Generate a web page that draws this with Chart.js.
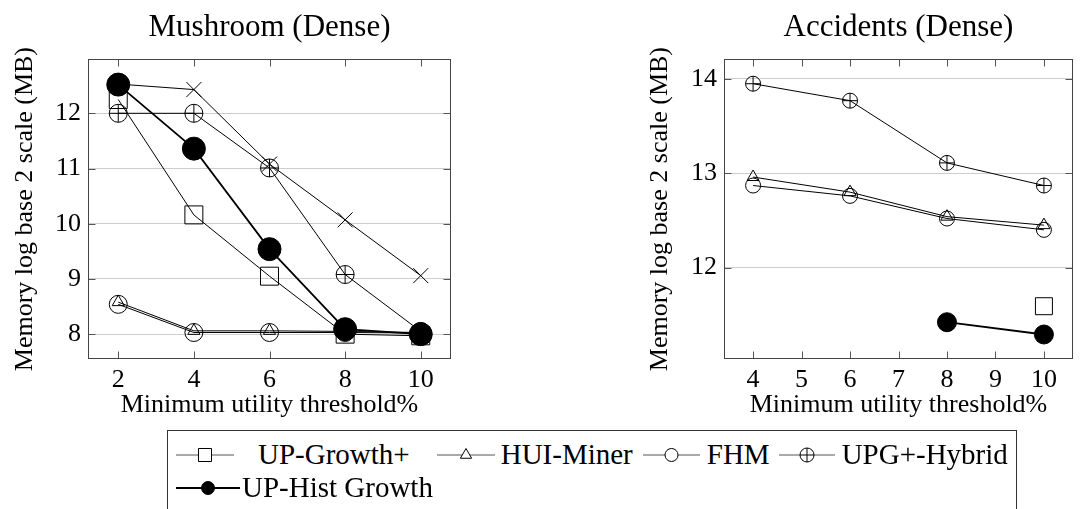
<!DOCTYPE html>
<html>
<head>
<meta charset="utf-8">
<title>Memory usage</title>
<script src="https://cdn.jsdelivr.net/npm/chart.js@4.4.1/dist/chart.umd.min.js"></script>
<style>
  body { margin: 0; width: 1086px; height: 509px; background: #fff; position: relative; overflow: hidden;
         font-family: "Liberation Serif", "Times New Roman", serif; }
  canvas.plot { position: absolute; top: 0; }
  #mushroom { left: 0; }
  #accidents { left: 630px; }
  #legend { position: absolute; left: 167px; top: 430px; border: 1.5px solid #333; border-bottom: none;
            padding: 7px 8px 30px 8px; background: #fff; }
  .row { display: flex; align-items: center; height: 33px; }
  .item { display: flex; align-items: center; }
  .item span { font-size: 29px; line-height: 33px; color: #000; white-space: nowrap; }
</style>
</head>
<body>
<canvas id="mushroom" class="plot" width="470" height="420"></canvas>
<canvas id="accidents" class="plot" width="456" height="420"></canvas>
<div id="legend"></div>
<script>
// series names
const seriesNames = ['UP-Growth+', 'HUI-Miner', 'FHM', 'UPG+-Hybrid', 'UP-Hist Growth'];

// Mushroom (Dense)
const mushThresholds = [2, 4, 6, 8, 10];
const mushUpGrowthPlus = [12.25, 10.16, 9.05, 8.0, 7.97];
const mushHuiMiner = [8.58, 8.06, 8.06, 8.05, 8.03];
const mushFhm = [8.54, 8.03, 8.03, 8.03, 8.02];
const mushUpgHybrid = [12.0, 12.0, 11.01, 9.08, 8.05];
const mushUpHist = [12.52, 11.36, 9.54, 8.09, 8.0];
const mushUnlabeled = [12.53, 12.43, 11.08, 10.07, 9.06];
const mushXTicks = [2, 4, 6, 8, 10];
const mushYTicks = [8, 9, 10, 11, 12];

// Accidents (Dense)
const accThresholds = [4, 6, 8, 10];
const accUpGrowthPlus = [null, null, null, 11.59];
const accHuiMiner = [12.96, 12.8, 12.54, 12.45];
const accFhm = [12.87, 12.76, 12.52, 12.4];
const accUpgHybrid = [13.95, 13.77, 13.11, 12.87];
const accUpHist = [null, null, 11.42, 11.29];
const accXTicks = [4, 5, 6, 7, 8, 9, 10];
const accYTicks = [12, 13, 14];

const FONT = '"Liberation Serif", "Times New Roman", serif';

function series(label, xs, ys, style, radius, extra) {
  return Object.assign({
    label: label,
    data: xs.map((x, i) => ({ x: x, y: ys[i] })),
    borderColor: '#000',
    borderWidth: 1,
    pointStyle: style,
    pointRadius: radius,
    pointHoverRadius: radius,
    pointBorderColor: '#000',
    pointBorderWidth: 1,
    pointBackgroundColor: 'rgba(0,0,0,0)',
    tension: 0,
    fill: false,
    spanGaps: false
  }, extra || {});
}

// circle-plus marker: a hollow circle series with a '+' overlay on the same points
function oplusSeries(label, xs, ys, radius) {
  return [
    series(label, xs, ys, 'circle', radius),
    series('', xs, ys, 'cross', radius, { showLine: false })
  ];
}

// frame around the plot area plus inward tick marks
const framePlugin = {
  id: 'frame',
  beforeDatasetsDraw(chart) {
    const { ctx, chartArea: a, scales } = chart;
    const l = Math.round(a.left) + 0.5, r = Math.round(a.right) - 0.5;
    const t = Math.round(a.top) + 0.5, b = Math.round(a.bottom) - 0.5;
    ctx.save();
    ctx.strokeStyle = '#555';
    ctx.lineWidth = 1;
    ctx.beginPath();
    scales.x.ticks.forEach(tk => {
      const px = Math.round(scales.x.getPixelForValue(tk.value)) + 0.5;
      ctx.moveTo(px, b); ctx.lineTo(px, b - 7);
      ctx.moveTo(px, t); ctx.lineTo(px, t + 7);
    });
    scales.y.ticks.forEach(tk => {
      const py = Math.round(scales.y.getPixelForValue(tk.value)) + 0.5;
      ctx.moveTo(l, py); ctx.lineTo(l + 7, py);
      ctx.moveTo(r, py); ctx.lineTo(r - 7, py);
    });
    ctx.stroke();
    ctx.strokeStyle = '#444';
    ctx.strokeRect(l, t, r - l, b - t);
    ctx.restore();
  }
};

function makeChart(id, title, datasets, xr, yr, xTicks, yTicks, yWidth, yTitlePad, padRight) {
  return new Chart(document.getElementById(id), {
    type: 'line',
    data: { datasets: datasets },
    plugins: [framePlugin],
    options: {
      responsive: false,
      animation: false,
      devicePixelRatio: 1,
      layout: { padding: { left: 0, right: padRight, top: 0, bottom: 0 } },
      plugins: {
        legend: { display: false },
        tooltip: { enabled: false },
        title: {
          display: true, text: title, fullSize: false, color: '#000',
          font: { family: FONT, size: 31, weight: 'normal' },
          padding: { top: 9, bottom: 13 }
        }
      },
      scales: {
        x: {
          type: 'linear', min: xr[0], max: xr[1],
          afterBuildTicks: s => { s.ticks = xTicks.map(v => ({ value: v })); },
          afterFit: s => { s.height = 61; },
          grid: { display: false },
          border: { display: false },
          ticks: { color: '#000', font: { family: FONT, size: 26, lineHeight: 1 }, padding: 0, maxRotation: 0, autoSkip: false },
          title: {
            display: true, text: 'Minimum utility threshold%', color: '#000',
            font: { family: FONT, size: 26 }, padding: { top: 0, bottom: -1 }
          }
        },
        y: {
          type: 'linear', min: yr[0], max: yr[1],
          afterBuildTicks: s => { s.ticks = yTicks.map(v => ({ value: v })); },
          afterFit: s => { s.width = yWidth; },
          grid: { color: '#cdcdcd', lineWidth: 1, drawTicks: false },
          border: { display: false },
          ticks: { color: '#000', font: { family: FONT, size: 26 }, padding: 7, autoSkip: false },
          title: {
            display: true, text: 'Memory log base 2 scale (MB)', color: '#000',
            font: { family: FONT, size: 26 }, padding: { top: yTitlePad, bottom: 0 }
          }
        }
      }
    }
  });
}

const mushChart = makeChart('mushroom', 'Mushroom (Dense)', [
  series(seriesNames[4], mushThresholds, mushUpHist, 'circle', 11.5,
    { borderWidth: 1.8, pointBackgroundColor: '#000' }),
  series(seriesNames[0], mushThresholds, mushUpGrowthPlus, 'rect', 12.7),
  ...oplusSeries(seriesNames[3], mushThresholds, mushUpgHybrid, 9),
  series(seriesNames[1], mushThresholds, mushHuiMiner, 'triangle', 7),
  series(seriesNames[2], mushThresholds, mushFhm, 'circle', 9),
  series('', mushThresholds, mushUnlabeled, 'crossRot', 10.6)
], [1.2, 10.8], [7.55, 12.98], mushXTicks, mushYTicks, 88, 10, 19);

makeChart('accidents', 'Accidents (Dense)', [
  series(seriesNames[4], accThresholds, accUpHist, 'circle', 9.5,
    { borderWidth: 1.8, pointBackgroundColor: '#000' }),
  series(seriesNames[0], accThresholds, accUpGrowthPlus, 'rect', 12),
  ...oplusSeries(seriesNames[3], accThresholds, accUpgHybrid, 7.5),
  series(seriesNames[1], accThresholds, accHuiMiner, 'triangle', 7),
  series(seriesNames[2], accThresholds, accFhm, 'circle', 7.5)
], [3.4, 10.6], [11.03, 14.21], accXTicks, accYTicks, 94, 15, 3);

// legend under both plots, built from the mushroom datasets
const legendMarks = {
  'UP-Growth+': { styles: ['rect'], r: 9.2 },
  'HUI-Miner': { styles: ['triangle'], r: 6.5 },
  'FHM': { styles: ['circle'], r: 6.5 },
  'UPG+-Hybrid': { styles: ['circle', 'cross'], r: 7 },
  'UP-Hist Growth': { styles: ['circle'], r: 6.5, filled: true, width: 2 }
};
// [line length, gap before text, gap after item]
const legendSpacing = {
  'UP-Growth+': [58, 24, 27],
  'HUI-Miner': [58, 6, 10],
  'FHM': [57, 7, 9],
  'UPG+-Hybrid': [56, 7, 0],
  'UP-Hist Growth': [64, 2, 0]
};
const legendRows = [seriesNames.slice(0, 4), seriesNames.slice(4)];

const legendEl = document.getElementById('legend');
legendRows.forEach(names => {
  const row = document.createElement('div');
  row.className = 'row';
  names.forEach(name => {
    const ds = mushChart.data.datasets.find(d => d.label === name);
    const mk = legendMarks[name];
    const sp = legendSpacing[name];
    const item = document.createElement('div');
    item.className = 'item';
    item.style.marginRight = sp[2] + 'px';
    const c = document.createElement('canvas');
    c.width = sp[0];
    c.height = 30;
    const g = c.getContext('2d');
    g.strokeStyle = mk.filled ? '#000' : '#555';
    g.lineWidth = mk.width || 1;
    g.beginPath();
    g.moveTo(0, 15); g.lineTo(sp[0], 15);
    g.stroke();
    g.strokeStyle = ds.pointBorderColor;
    g.fillStyle = mk.filled ? '#000' : '#fff';
    g.lineWidth = 1;
    mk.styles.forEach(st => {
      Chart.helpers.drawPoint(g, { pointStyle: st, radius: mk.r, borderWidth: 1, rotation: 0 }, sp[0] / 2, 15);
    });
    const label = document.createElement('span');
    label.textContent = ds.label;
    label.style.marginLeft = sp[1] + 'px';
    item.appendChild(c);
    item.appendChild(label);
    row.appendChild(item);
  });
  legendEl.appendChild(row);
});
</script>
</body>
</html>
